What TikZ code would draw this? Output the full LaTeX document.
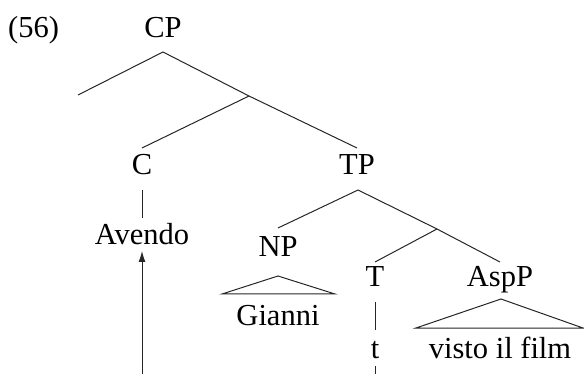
\documentclass[tikz,border=0pt]{standalone}
\usepackage{fontspec}
\setmainfont{Liberation Serif}
\usetikzlibrary{arrows.meta}
\begin{document}
\begin{tikzpicture}[x=1pt,y=-1pt,
  lbl/.style={anchor=base,inner sep=0pt,font=\fontsize{30.5}{36}\selectfont},
  edge/.style={line width=1pt,draw=black!85},
  mover/.style={edge,-{Latex[length=11pt,width=7pt]}}]
\useasboundingbox (0,0) rectangle (584,374);
% labels
\node[lbl,anchor=base west] (ex) at (8,38) {(56)};
\node[lbl] (cp) at (163,38) {CP};
\node[lbl] (c) at (142,175) {C};
\node[lbl] (tp) at (357,175) {TP};
\node[lbl] (avendo) at (142,245) {Avendo};
\node[lbl] (np) at (278,257) {NP};
\node[lbl] (t) at (375,287) {T};
\node[lbl] (aspp) at (500,287) {AspP};
\node[lbl] (gianni) at (278,325) {Gianni};
\node[lbl] (trace) at (375,358) {t};
\node[lbl] (visto) at (500,358) {visto il film};
% branch points
\coordinate (cpTop) at (163,52);
\coordinate (spec) at (78,95);
\coordinate (cbar) at (249,96);
\coordinate (cTop) at (142,148);
\coordinate (tpIn) at (357,148);
\coordinate (cBot) at (142,190);
\coordinate (avTop) at (142,218);
\coordinate (tpTop) at (358,190);
\coordinate (npIn) at (278,228);
\coordinate (tbar) at (437,229);
\coordinate (tIn) at (375,262);
\coordinate (asIn) at (500,262);
\coordinate (tBot) at (375,302);
\coordinate (trTop) at (375,330);
\coordinate (trBot) at (375,366);
\coordinate (trEnd) at (375,374);
\coordinate (avBot) at (142,251);
\coordinate (arStart) at (142,374);
\coordinate (npApex) at (278,276);
\coordinate (npL) at (222,294);
\coordinate (npR) at (335,294);
\coordinate (asApex) at (501,299);
\coordinate (asL) at (416,328);
\coordinate (asR) at (583,328);
% edges
\draw[edge] (spec) -- (cpTop) -- (cbar) -- (tpIn);
\draw[edge] (cbar) -- (cTop);
\draw[edge] (cBot) -- (avTop);
\draw[edge] (npIn) -- (tpTop) -- (tbar) -- (asIn);
\draw[edge] (tbar) -- (tIn);
\draw[edge] (tBot) -- (trTop);
\draw[edge] (trBot) -- (trEnd);
\draw[edge] (npApex) -- (npL) -- (npR) -- cycle;
\draw[edge] (asApex) -- (asL) -- (asR) -- cycle;
\draw[mover] (arStart) -- (avBot);
\end{tikzpicture}
\end{document}
